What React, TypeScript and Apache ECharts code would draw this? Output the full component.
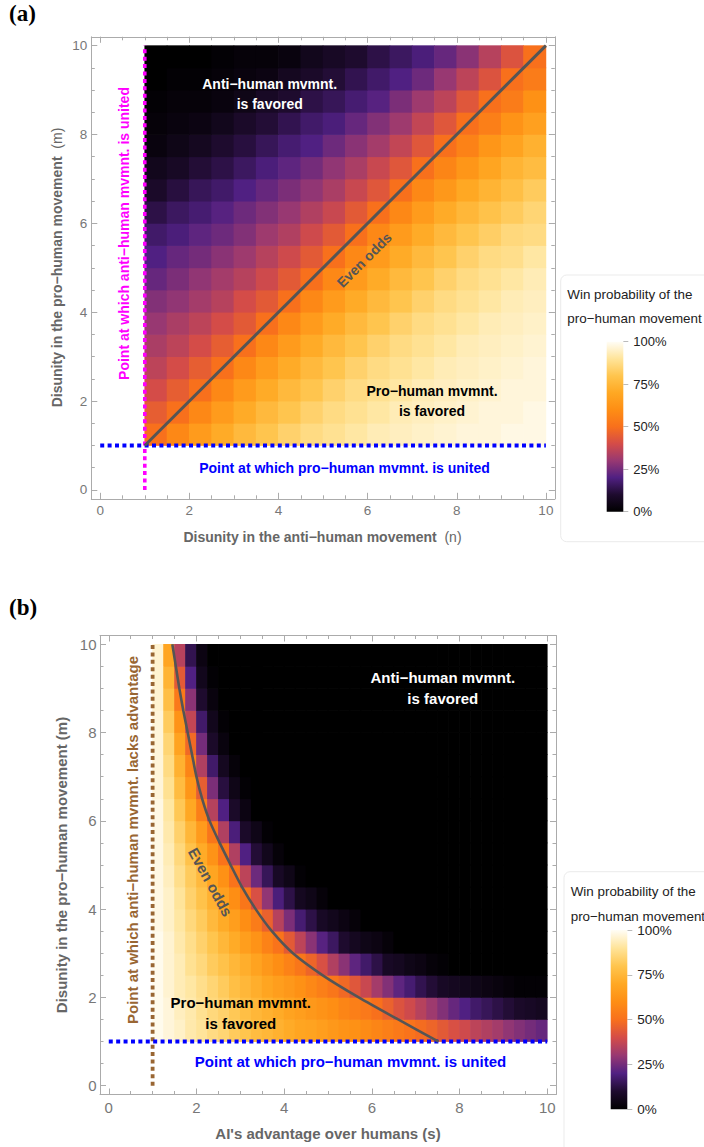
import React, { useEffect, useRef } from 'react';
import * as echarts from 'echarts';

const FONT = "'Liberation Sans', Arial, Helvetica, sans-serif";
const SERIF = "'Liberation Serif', 'Times New Roman', serif";

// ---------- Panel (a): n (x) vs m (y), win probability (%) ----------
const aN = [1.25, 1.75, 2.25, 2.75, 3.25, 3.75, 4.25, 4.75, 5.25, 5.75, 6.25, 6.75, 7.25, 7.75, 8.25, 8.75, 9.25, 9.75];
const aM = [1.25, 1.75, 2.25, 2.75, 3.25, 3.75, 4.25, 4.75, 5.25, 5.75, 6.25, 6.75, 7.25, 7.75, 8.25, 8.75, 9.25, 9.75];
const aWin = [
  [50, 58, 65, 71, 76, 80, 84, 87, 89, 91, 93, 94, 95, 96, 97, 97, 98, 98],
  [45, 50, 58, 65, 71, 76, 80, 84, 87, 89, 91, 93, 94, 95, 96, 97, 97, 98],
  [40, 45, 50, 58, 65, 71, 76, 80, 84, 87, 89, 91, 93, 94, 95, 96, 97, 97],
  [36, 40, 45, 50, 58, 65, 71, 76, 80, 84, 87, 89, 91, 93, 94, 95, 96, 97],
  [33, 36, 40, 45, 50, 58, 65, 71, 76, 80, 84, 87, 89, 91, 93, 94, 95, 96],
  [30, 33, 36, 40, 44, 50, 58, 65, 71, 76, 80, 84, 87, 89, 91, 93, 94, 95],
  [27, 29, 32, 35, 40, 44, 50, 58, 65, 71, 76, 80, 84, 87, 89, 91, 93, 94],
  [23, 26, 29, 32, 35, 39, 44, 50, 58, 65, 71, 76, 80, 84, 87, 89, 91, 93],
  [20, 23, 25, 28, 31, 35, 39, 44, 50, 58, 65, 71, 76, 80, 84, 87, 88, 91],
  [17, 19, 22, 24, 27, 31, 34, 39, 44, 50, 58, 65, 71, 76, 80, 83, 86, 87],
  [13, 16, 18, 21, 24, 27, 30, 34, 38, 44, 50, 58, 65, 71, 75, 79, 82, 85],
  [9, 12, 15, 17, 20, 23, 26, 29, 33, 38, 43, 50, 58, 64, 70, 74, 78, 82],
  [6, 8, 11, 13, 16, 19, 22, 25, 29, 33, 38, 43, 50, 57, 63, 69, 74, 77],
  [3, 5, 7, 10, 12, 15, 18, 20, 24, 28, 32, 37, 43, 50, 56, 63, 68, 73],
  [2, 3, 4, 6, 9, 11, 14, 17, 19, 23, 27, 31, 37, 43, 50, 55, 62, 67],
  [1, 2, 2, 3, 5, 8, 10, 13, 15, 18, 21, 26, 31, 36, 43, 50, 54, 61],
  [0, 1, 1, 2, 3, 4, 7, 9, 11, 14, 17, 20, 24, 30, 36, 42, 50, 54],
  [0, 0, 0, 1, 2, 2, 3, 6, 8, 10, 13, 16, 19, 23, 28, 35, 42, 50],
];
const aEvenN = [1, 10];
const aEvenM = [1, 10];

// ---------- Panel (b): s (x) vs m (y), win probability (%) ----------
const bS = [1.125, 1.375, 1.625, 1.875, 2.125, 2.375, 2.625, 2.875, 3.125, 3.375, 3.625, 3.875, 4.125, 4.375, 4.625, 4.875, 5.125, 5.375,
  5.625, 5.875, 6.125, 6.375, 6.625, 6.875, 7.125, 7.375, 7.625, 7.875, 8.125, 8.375, 8.625, 8.875, 9.125, 9.375, 9.625, 9.875];
const bM = [1.25, 1.75, 2.25, 2.75, 3.25, 3.75, 4.25, 4.75, 5.25, 5.75, 6.25, 6.75, 7.25, 7.75, 8.25, 8.75, 9.25, 9.75];
const bWin = [
  [99, 97, 95, 92, 90, 87, 85, 82, 80, 77, 75, 73, 71, 69, 68, 66, 64, 62, 61, 59, 57, 55, 53, 51, 49, 47, 44, 41, 39, 36, 34, 32, 29, 27, 25, 23],
  [99, 97, 94, 92, 89, 86, 84, 81, 78, 75, 73, 71, 68, 66, 64, 62, 60, 57, 55, 53, 50, 46, 42, 39, 35, 31, 27, 23, 20, 17, 15, 13, 11, 9, 8, 7],
  [99, 96, 93, 91, 88, 85, 82, 78, 75, 72, 69, 66, 64, 61, 58, 55, 52, 48, 43, 38, 32, 27, 22, 18, 14, 11, 8, 7, 6, 5, 4, 3, 2, 1, 1, 1],
  [99, 96, 93, 89, 86, 82, 79, 75, 72, 68, 64, 60, 56, 52, 47, 41, 34, 28, 22, 17, 13, 8, 7, 5, 4, 2, 1, 0, 0, 0, 0, 0, 0, 0, 0, 0],
  [99, 96, 92, 88, 84, 80, 75, 71, 66, 62, 56, 51, 44, 36, 28, 21, 16, 10, 7, 5, 4, 2, 0, 0, 0, 0, 0, 0, 0, 0, 0, 0, 0, 0, 0, 0],
  [98, 95, 91, 86, 82, 76, 71, 66, 60, 54, 46, 35, 26, 18, 13, 8, 6, 4, 2, 0, 0, 0, 0, 0, 0, 0, 0, 0, 0, 0, 0, 0, 0, 0, 0, 0],
  [98, 95, 90, 84, 79, 73, 67, 60, 52, 41, 29, 19, 13, 7, 5, 2, 0, 0, 0, 0, 0, 0, 0, 0, 0, 0, 0, 0, 0, 0, 0, 0, 0, 0, 0, 0],
  [98, 94, 88, 82, 76, 69, 61, 51, 36, 24, 15, 8, 5, 1, 0, 0, 0, 0, 0, 0, 0, 0, 0, 0, 0, 0, 0, 0, 0, 0, 0, 0, 0, 0, 0, 0],
  [98, 93, 86, 79, 71, 62, 51, 34, 20, 11, 6, 2, 0, 0, 0, 0, 0, 0, 0, 0, 0, 0, 0, 0, 0, 0, 0, 0, 0, 0, 0, 0, 0, 0, 0, 0],
  [98, 92, 84, 75, 65, 52, 34, 19, 9, 5, 1, 0, 0, 0, 0, 0, 0, 0, 0, 0, 0, 0, 0, 0, 0, 0, 0, 0, 0, 0, 0, 0, 0, 0, 0, 0],
  [98, 91, 81, 70, 55, 35, 20, 9, 4, 0, 0, 0, 0, 0, 0, 0, 0, 0, 0, 0, 0, 0, 0, 0, 0, 0, 0, 0, 0, 0, 0, 0, 0, 0, 0, 0],
  [97, 89, 77, 63, 45, 26, 12, 5, 1, 0, 0, 0, 0, 0, 0, 0, 0, 0, 0, 0, 0, 0, 0, 0, 0, 0, 0, 0, 0, 0, 0, 0, 0, 0, 0, 0],
  [97, 87, 73, 57, 34, 17, 7, 2, 0, 0, 0, 0, 0, 0, 0, 0, 0, 0, 0, 0, 0, 0, 0, 0, 0, 0, 0, 0, 0, 0, 0, 0, 0, 0, 0, 0],
  [97, 85, 68, 48, 25, 9, 3, 0, 0, 0, 0, 0, 0, 0, 0, 0, 0, 0, 0, 0, 0, 0, 0, 0, 0, 0, 0, 0, 0, 0, 0, 0, 0, 0, 0, 0],
  [97, 82, 62, 37, 17, 6, 1, 0, 0, 0, 0, 0, 0, 0, 0, 0, 0, 0, 0, 0, 0, 0, 0, 0, 0, 0, 0, 0, 0, 0, 0, 0, 0, 0, 0, 0],
  [96, 78, 53, 28, 10, 3, 0, 0, 0, 0, 0, 0, 0, 0, 0, 0, 0, 0, 0, 0, 0, 0, 0, 0, 0, 0, 0, 0, 0, 0, 0, 0, 0, 0, 0, 0],
  [96, 74, 44, 20, 6, 1, 0, 0, 0, 0, 0, 0, 0, 0, 0, 0, 0, 0, 0, 0, 0, 0, 0, 0, 0, 0, 0, 0, 0, 0, 0, 0, 0, 0, 0, 0],
  [96, 69, 35, 14, 4, 0, 0, 0, 0, 0, 0, 0, 0, 0, 0, 0, 0, 0, 0, 0, 0, 0, 0, 0, 0, 0, 0, 0, 0, 0, 0, 0, 0, 0, 0, 0],
];
const bEvenS = [1.45, 1.53, 1.61, 1.70, 1.80, 1.90, 2.00, 2.13, 2.30, 2.53, 2.78, 3.04, 3.35, 3.72, 4.20, 4.88, 5.70, 6.60, 7.52];
const bEvenM = [10, 9.5, 9, 8.5, 8, 7.5, 7, 6.5, 6, 5.5, 5, 4.5, 4, 3.5, 3, 2.5, 2, 1.5, 1];

// ---------- reference lines ----------
const unitedLineX = [0, 10];
const unitedLineY = [1, 1];
const vertLineX = [1, 1];
const vertLineY = [0, 10];

// ---------- ticks ----------
const majorTicks = [0, 2, 4, 6, 8, 10];
const minorTicks = [0, 0.5, 1, 1.5, 2, 2.5, 3, 3.5, 4, 4.5, 5, 5.5, 6, 6.5, 7, 7.5, 8, 8.5, 9, 9.5, 10];
const barTicks = [0, 25, 50, 75, 100];

// sunset-like colour map, 0% .. 100%
const CMAP = ['#000000', '#1e0b2e', '#502082', '#983872', '#d44c48', '#f8701c', '#fe8e14', '#ffa823', '#ffc54e', '#ffe49a', '#fffdf6'];

const FRAME = '#ababab';
const LABEL = '#777777';
const TITLE = '#666666';

function valueAxis(gridIndex: number, position: string, ticks: number[], len: number, labels: number[] | null, lineShow: boolean, fontSize: number, margin: number) {
  return {
    type: 'value', gridIndex, position, min: -0.2, max: 10.2,
    axisLine: { show: lineShow, onZero: false, lineStyle: { color: FRAME, width: 1 } },
    axisTick: { show: true, inside: true, length: len, customValues: ticks, lineStyle: { color: FRAME, width: 1 } },
    axisLabel: labels ? { show: true, customValues: labels, color: LABEL, fontSize, fontFamily: FONT, margin } : { show: false },
    splitLine: { show: false }, minorTick: { show: false }, minorSplitLine: { show: false },
  };
}

function heatData(xs: number[], ys: number[], vals: number[][]) {
  const out: number[][] = [];
  for (let j = 0; j < ys.length; j++) for (let k = 0; k < xs.length; k++) out.push([xs[k], ys[j], vals[j][k]]);
  return out;
}

function cellRender(dx: number, dy: number) {
  return (params: any, api: any) => {
    const x = api.value(0), y = api.value(1);
    const p0 = api.coord([x - dx / 2, y + dy / 2]);
    const p1 = api.coord([x + dx / 2, y - dy / 2]);
    return {
      type: 'rect',
      shape: { x: p0[0] - 0.35, y: p0[1] - 0.35, width: p1[0] - p0[0] + 0.7, height: p1[1] - p0[1] + 0.7 },
      style: { fill: api.visual('color') },
    };
  };
}

function pairs(xs: number[], ys: number[]) {
  return xs.map((x, i) => [x, ys[i]]);
}

function gradient() {
  return new echarts.graphic.LinearGradient(0, 1, 0, 0, CMAP.map((c, i) => ({ offset: i / (CMAP.length - 1), color: c })));
}

function txt(x: number, y: number, text: string, font: string, fill: string, extra: any = {}) {
  return { type: 'text', x, y, rotation: extra.rotation || 0, z: 50, style: { text, font, fill, align: extra.align || 'center', verticalAlign: 'middle', lineHeight: extra.lineHeight, rich: extra.rich } };
}

export default function App() {
  const ref = useRef<HTMLDivElement>(null);
  useEffect(() => {
    if (!ref.current) return;
    const chart = echarts.init(ref.current, null, { renderer: 'svg' });
    const gA = { left: 91.3, top: 36.8, width: 463.5, height: 462, containLabel: false, outerBoundsMode: 'none' };
    const gB = { left: 100, top: 635.5, width: 456, height: 459, containLabel: false, outerBoundsMode: 'none' };
    const dashed = (color: string, w: number) => ({ color, width: w, type: [4, 3.4], cap: 'butt' });

    const option: any = {
      animation: false,
      backgroundColor: '#ffffff',
      grid: [
        gA, { ...gA }, gB, { ...gB },
        { left: 606.7, top: 341.7, width: 16.6, height: 170, containLabel: false, outerBoundsMode: 'none' },
        { left: 610.7, top: 930, width: 16.6, height: 179.3, containLabel: false, outerBoundsMode: 'none' },
      ],
      xAxis: [
        valueAxis(0, 'bottom', majorTicks, 6, majorTicks, true, 13.5, 5),
        valueAxis(0, 'top', majorTicks, 6, null, true, 13.5, 5),
        valueAxis(1, 'bottom', minorTicks, 3.5, null, false, 13.5, 5),
        valueAxis(1, 'top', minorTicks, 3.5, null, false, 13.5, 5),
        valueAxis(2, 'bottom', majorTicks, 6, majorTicks, true, 15, 5),
        valueAxis(2, 'top', majorTicks, 6, null, true, 15, 5),
        valueAxis(3, 'bottom', minorTicks, 3.5, null, false, 15, 5),
        valueAxis(3, 'top', minorTicks, 3.5, null, false, 15, 5),
        { type: 'category', gridIndex: 4, data: ['p'], show: false },
        { type: 'category', gridIndex: 5, data: ['p'], show: false },
      ],
      yAxis: [
        valueAxis(0, 'left', majorTicks, 6, majorTicks, true, 13.5, 4),
        valueAxis(0, 'right', majorTicks, 6, null, true, 13.5, 4),
        valueAxis(1, 'left', minorTicks, 3.5, null, false, 13.5, 4),
        valueAxis(1, 'right', minorTicks, 3.5, null, false, 13.5, 4),
        valueAxis(2, 'left', majorTicks, 6, majorTicks, true, 15, 3.5),
        valueAxis(2, 'right', majorTicks, 6, null, true, 15, 3.5),
        valueAxis(3, 'left', minorTicks, 3.5, null, false, 15, 3.5),
        valueAxis(3, 'right', minorTicks, 3.5, null, false, 15, 3.5),
        {
          type: 'value', gridIndex: 4, position: 'right', min: 0, max: 100,
          axisLine: { show: false }, splitLine: { show: false },
          axisTick: { show: true, inside: false, length: 5, customValues: barTicks, lineStyle: { color: '#bbbbbb' } },
          axisLabel: { show: true, customValues: barTicks, formatter: '{value}%', color: '#222222', fontSize: 13, fontFamily: FONT, margin: 10 },
        },
        {
          type: 'value', gridIndex: 5, position: 'right', min: 0, max: 100,
          axisLine: { show: false }, splitLine: { show: false },
          axisTick: { show: true, inside: false, length: 5, customValues: barTicks, lineStyle: { color: '#bbbbbb' } },
          axisLabel: { show: true, customValues: barTicks, formatter: '{value}%', color: '#222222', fontSize: 13.5, fontFamily: FONT, margin: 10 },
        },
      ],
      visualMap: [{
        type: 'continuous', show: false, min: 0, max: 100, dimension: 2, seriesIndex: [0, 4],
        inRange: { color: CMAP },
      }],
      series: [
        { type: 'custom', xAxisIndex: 0, yAxisIndex: 0, renderItem: cellRender(0.5, 0.5), data: heatData(aN, aM, aWin), encode: { x: 0, y: 1 }, z: 1, silent: true },
        { type: 'line', xAxisIndex: 0, yAxisIndex: 0, data: pairs(vertLineX, vertLineY), symbol: 'none', lineStyle: dashed('#ff00ff', 3.6), z: 5, silent: true },
        { type: 'line', xAxisIndex: 0, yAxisIndex: 0, data: pairs(unitedLineX, unitedLineY), symbol: 'none', lineStyle: dashed('#0000ff', 4), z: 5, silent: true },
        { type: 'line', xAxisIndex: 0, yAxisIndex: 0, data: pairs(aEvenN, aEvenM), symbol: 'none', lineStyle: { color: '#555555', width: 3 }, z: 6, silent: true },
        { type: 'custom', xAxisIndex: 4, yAxisIndex: 4, renderItem: cellRender(0.25, 0.5), data: heatData(bS, bM, bWin), encode: { x: 0, y: 1 }, z: 1, silent: true },
        { type: 'line', xAxisIndex: 4, yAxisIndex: 4, data: pairs(vertLineX, vertLineY), symbol: 'none', lineStyle: dashed('#996633', 3.8), z: 5, silent: true },
        { type: 'line', xAxisIndex: 4, yAxisIndex: 4, data: pairs(unitedLineX, unitedLineY), symbol: 'none', lineStyle: dashed('#0000ff', 4), z: 5, silent: true },
        { type: 'line', xAxisIndex: 4, yAxisIndex: 4, data: pairs(bEvenS, bEvenM), symbol: 'none', smooth: 0.3, lineStyle: { color: '#555555', width: 2.6 }, z: 6, silent: true },
        { type: 'bar', xAxisIndex: 8, yAxisIndex: 8, data: [100], barWidth: '100%', itemStyle: { color: gradient() }, silent: true },
        { type: 'bar', xAxisIndex: 9, yAxisIndex: 9, data: [100], barWidth: '100%', itemStyle: { color: gradient() }, silent: true },
      ],
      graphic: [
        { type: 'rect', shape: { x: 560.7, y: 275, width: 170, height: 266.7, r: 6 }, style: { fill: 'none', stroke: '#ebebeb', lineWidth: 1 }, z: 1 },
        { type: 'rect', shape: { x: 564, y: 871.7, width: 170, height: 300, r: 6 }, style: { fill: 'none', stroke: '#ebebeb', lineWidth: 1 }, z: 1 },
        txt(9, 13, '(a)', `bold 23px ${SERIF}`, '#000000', { align: 'left' }),
        txt(9, 607, '(b)', `bold 23px ${SERIF}`, '#000000', { align: 'left' }),
        txt(322.5, 536.7, '{b|Disunity in the anti−human movement}{r|  (n)}', `bold 14px ${FONT}`, TITLE, {
          rich: { b: { fontWeight: 'bold', fontSize: 14, fontFamily: FONT, fill: TITLE }, r: { fontWeight: 'normal', fontSize: 14, fontFamily: FONT, fill: TITLE } },
        }),
        txt(57, 267.5, '{b|Disunity in the pro−human movement}{r|  (m)}', `bold 14px ${FONT}`, TITLE, {
          rotation: Math.PI / 2,
          rich: { b: { fontWeight: 'bold', fontSize: 14, fontFamily: FONT, fill: TITLE }, r: { fontWeight: 'normal', fontSize: 14, fontFamily: FONT, fill: TITLE } },
        }),
        txt(123.8, 233.5, 'Point at which anti−human mvmnt. is united', `bold 14px ${FONT}`, '#ff00ff', { rotation: Math.PI / 2 }),
        txt(344.5, 468, 'Point at which pro−human mvmnt. is united', `bold 14px ${FONT}`, '#0000ff'),
        txt(269.7, 94, 'Anti−human mvmnt.\nis favored', `bold 14px ${FONT}`, '#ffffff', { lineHeight: 20 }),
        txt(432, 401, 'Pro−human mvmnt.\nis favored', `bold 14px ${FONT}`, '#000000', { lineHeight: 20 }),
        txt(364.2, 260, 'Even odds', `bold 14px ${FONT}`, '#555555', { rotation: Math.PI / 4 }),
        txt(567.3, 294, 'Win probability of the', `13.4px ${FONT}`, '#222222', { align: 'left' }),
        txt(567.3, 318.3, 'pro−human movement', `13.4px ${FONT}`, '#222222', { align: 'left' }),
        txt(328, 1133.3, "AI's advantage over humans (s)", `bold 15px ${FONT}`, TITLE),
        txt(61, 865, 'Disunity in the pro−human movement (m)', `bold 15px ${FONT}`, TITLE, { rotation: Math.PI / 2 }),
        txt(132, 840, 'Point at which anti−human mvmnt. lacks advantage', `bold 15px ${FONT}`, '#996633', { rotation: Math.PI / 2 }),
        txt(350.5, 1061.7, 'Point at which pro−human mvmnt. is united', `bold 15px ${FONT}`, '#0000ff'),
        txt(442.8, 688, 'Anti−human mvmnt.\nis favored', `bold 15px ${FONT}`, '#ffffff', { lineHeight: 21.7 }),
        txt(240.8, 1012.8, 'Pro−human mvmnt.\nis favored', `bold 15px ${FONT}`, '#000000', { lineHeight: 21 }),
        txt(210.5, 882, 'Even odds', `bold 15px ${FONT}`, '#555555', { rotation: -1.07 }),
        txt(570.7, 891, 'Win probability of the', `13.4px ${FONT}`, '#222222', { align: 'left' }),
        txt(570.7, 916, 'pro−human movement', `13.4px ${FONT}`, '#222222', { align: 'left' }),
      ],
    };
    chart.setOption(option);
    return () => chart.dispose();
  }, []);
  return <div ref={ref} style={{ position: 'fixed', left: 0, top: 0, width: 704, height: 1147, background: '#fff' }} />;
}
